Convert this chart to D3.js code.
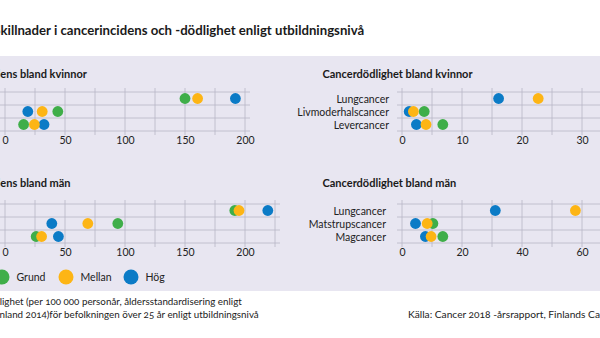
<!DOCTYPE html>
<html>
<head>
<meta charset="utf-8">
<script src="https://cdn.jsdelivr.net/npm/d3@7"></script>
<style>
  body { margin: 0; background: #fff; }
  svg { display: block; font-family: Lato, "Open Sans", sans-serif; }
</style>
</head>
<body>
<div id="chart"></div>
<script>
// levels of education and their colours
const series = ["Grund", "Mellan", "Hög"];
const colors = ["#3fae49", "#fdb515", "#0b7bc6"];

// incidence, women
const incKvinnorCats = ["Bröstcancer", "Lungcancer", "Hudmelanom"];
const incKvinnorGrund = [150, 44, 15.5];
const incKvinnorMellan = [160.5, 31, 24.5];
const incKvinnorHog = [192, 19, 32.5];

// mortality, women
const dodKvinnorCats = ["Lungcancer", "Livmoderhalscancer", "Levercancer"];
const dodKvinnorGrund = [35, 3.7, 6.8];
const dodKvinnorMellan = [22.7, 1.9, 4.0];
const dodKvinnorHog = [16.1, 1.2, 2.4];

// incidence, men
const incManCats = ["Prostatacancer", "Lungcancer", "Hudmelanom"];
const incManGrund = [191.5, 94, 26];
const incManMellan = [195, 69, 30.5];
const incManHog = [219, 39, 44.5];

// mortality, men
const dodManCats = ["Lungcancer", "Matstrupscancer", "Magcancer"];
const dodManGrund = [80, 10.3, 13.6];
const dodManMellan = [57.8, 8.4, 9.7];
const dodManHog = [31.1, 4.5, 7.8];

const width = 600, height = 338;

const svg = d3.select("#chart")
    .append("svg")
    .attr("width", width)
    .attr("height", height);

// lavender band behind the panels
svg.append("rect")
    .attr("x", 0)
    .attr("y", 56)
    .attr("width", width)
    .attr("height", 235)
    .attr("fill", "#e8e6f1");

// text whose start is cut off at the left edge: put the visible part at vx
function clippedText(sel, full, hidden, vx) {
    sel.text(full);
    const w = hidden.length ? sel.node().getSubStringLength(0, hidden.length) : 0;
    sel.attr("x", vx - w);
    return sel;
}

clippedText(svg.append("text")
    .attr("y", 35)
    .attr("font-size", 13.2)
    .attr("font-weight", 700)
    .attr("fill", "#1a1a1a"),
    "Skillnader i cancerincidens och -dödlighet enligt utbildningsnivå", "S", 0.5);

const panels = [
    {title: "Cancerincidens bland kvinnor", hidden: "Cancerincid", titleX: 0.3, titleY: 78,
     cats: incKvinnorCats, vals: [incKvinnorGrund, incKvinnorMellan, incKvinnorHog],
     domain: [0, 200], range: [5, 245], gridMax: 200, gridStep: 25, labelMax: 200, labelStep: 50,
     band: [92, 131], tickY: 146, hLine: [0, 250], labelX: -14},
    {title: "Cancerdödlighet bland kvinnor", hidden: "", titleX: 322.5, titleY: 78,
     cats: dodKvinnorCats, vals: [dodKvinnorGrund, dodKvinnorMellan, dodKvinnorHog],
     domain: [0, 30], range: [402, 582], gridMax: 35, gridStep: 5, labelMax: 30, labelStep: 10,
     band: [92, 131], tickY: 146, hLine: [397, 620], labelX: 389},
    {title: "Cancerincidens bland män", hidden: "Cancerincid", titleX: 0.3, titleY: 187,
     cats: incManCats, vals: [incManGrund, incManMellan, incManHog],
     domain: [0, 225], range: [5, 275], gridMax: 225, gridStep: 25, labelMax: 200, labelStep: 50,
     band: [204, 243], tickY: 258, hLine: [0, 280], labelX: -14},
    {title: "Cancerdödlighet bland män", hidden: "", titleX: 322.5, titleY: 187,
     cats: dodManCats, vals: [dodManGrund, dodManMellan, dodManHog],
     domain: [0, 60], range: [402, 582], gridMax: 70, gridStep: 10, labelMax: 60, labelStep: 20,
     band: [204, 243], tickY: 258, hLine: [397, 620], labelX: 386}
];

// draw order: green first, yellow last
const drawOrder = [0, 2, 1];

panels.forEach(p => {
    const g = svg.append("g");
    const x = d3.scaleLinear().domain(p.domain).range(p.range);
    const y = d3.scaleBand().domain(p.cats).range(p.band);

    clippedText(g.append("text")
        .attr("y", p.titleY)
        .attr("font-size", 11)
        .attr("font-weight", 700)
        .attr("fill", "#1a1a1a"),
        p.title, p.hidden, p.titleX);

    // vertical grid
    const gridVals = d3.range(0, p.gridMax + 0.001, p.gridStep);
    g.selectAll(".vg").data(gridVals).enter().append("line")
        .attr("x1", d => x(d)).attr("x2", d => x(d))
        .attr("y1", p.band[0] - 4).attr("y2", p.band[1] + 4)
        .attr("stroke", "#b8b6c6").attr("stroke-width", 0.8);

    // horizontal grid at band edges
    const edges = p.cats.map(c => y(c)).concat([p.band[1]]);
    g.selectAll(".hg").data(edges).enter().append("line")
        .attr("x1", p.hLine[0]).attr("x2", p.hLine[1])
        .attr("y1", d => d).attr("y2", d => d)
        .attr("stroke", "#b8b6c6").attr("stroke-width", 0.8);

    // tick labels
    const axis = g.append("g")
        .attr("transform", `translate(0,${p.tickY - 9})`)
        .call(d3.axisBottom(x)
            .tickValues(d3.range(0, p.labelMax + 0.001, p.labelStep))
            .tickSize(0).tickPadding(0));
    axis.select(".domain").remove();
    axis.selectAll("text")
        .attr("font-family", "Lato, 'Open Sans', sans-serif")
        .attr("font-size", 10.5)
        .attr("fill", "#222");

    // category labels
    g.selectAll(".cat").data(p.cats).enter().append("text")
        .attr("x", p.labelX)
        .attr("y", d => y(d) + y.bandwidth() / 2 + 4)
        .attr("text-anchor", "end")
        .attr("font-size", 10.5)
        .attr("fill", "#222")
        .text(d => d);

    // dots
    drawOrder.forEach(si => {
        g.selectAll(".dot" + si).data(p.cats).enter().append("circle")
            .attr("cx", (d, i) => x(p.vals[si][i]))
            .attr("cy", d => y(d) + y.bandwidth() / 2)
            .attr("r", 5.4)
            .attr("fill", colors[si]);
    });
});

// legend
const legendX = [2, 66, 131];
const legend = svg.append("g").attr("transform", "translate(0,277)");
series.forEach((s, i) => {
    legend.append("circle")
        .attr("cx", legendX[i]).attr("cy", 0).attr("r", 7.5)
        .attr("fill", colors[i]);
    legend.append("text")
        .attr("x", legendX[i] + 14.5).attr("y", 3.8)
        .attr("font-size", 10.5)
        .attr("fill", "#222")
        .text(s);
});

// footnotes
const note = svg.append("g")
    .attr("font-size", 9.8)
    .attr("fill", "#222")
    .style("font-variant-numeric", "oldstyle-nums");
clippedText(note.append("text").attr("y", 305),
    "Incidens och dödlighet (per 100 000 personår, åldersstandardisering enligt", "Incidens och död", -0.3);
clippedText(note.append("text").attr("y", 317.5),
    "befolkningen i Finland 2014)för befolkningen över 25 år enligt utbildningsnivå", "befolkningen i Fi", -0.5);
note.append("text")
    .attr("x", 408).attr("y", 317.5)
    .attr("font-size", 10.2)
    .text("Källa: Cancer 2018 -årsrapport, Finlands Cancerregister");
</script>
</body>
</html>
